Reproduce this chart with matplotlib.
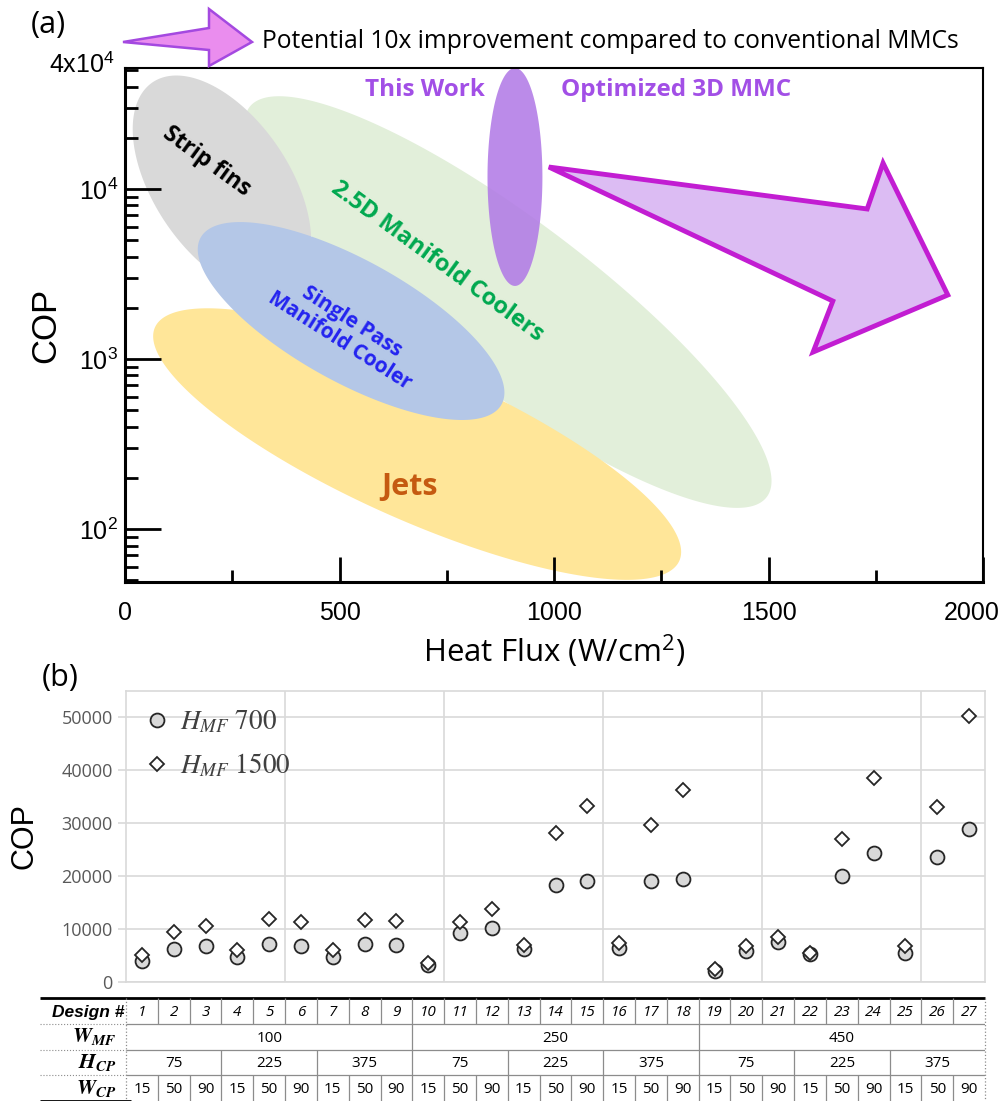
import numpy as np
import matplotlib
matplotlib.use('Agg')
import matplotlib.pyplot as plt
import matplotlib.transforms as mtransforms
from matplotlib.patches import Polygon
from matplotlib.ticker import NullFormatter, FixedLocator

plt.rcParams['mathtext.fontset'] = 'stix'

TICKF = 'Liberation Sans'
SANS = 'Open Sans'

# ---------------- panel (a) data ----------------
heat_flux_ticks = [0, 500, 1000, 1500, 2000]
heat_flux_minor = [250, 750, 1250, 1750]
cop_ticks = [1e2, 1e3, 1e4]

# cooler regions: centre (heat flux, COP), semi axes in W/cm2-equivalent units, tilt
region_names = ['2.5D', 'strip', 'jets', 'single', 'this']
region_hf = [893, 226, 681, 527, 909]
region_cop = [2163, 10550, 316, 1673, 11770]
region_a = [755, 289, 669, 401, 64]
region_b = [193, 158, 177, 142, 254]
region_tilt = [-37, -56, -24, -29, 0]
region_colors = ['#E2EFDA', '#D9D9D9', '#FFE699', '#B4C7E7', '#B27BE6']
region_alpha = [1.0, 1.0, 1.0, 1.0, 0.88]

# trend arrow vertices (heat flux, COP)
arrow_hf = [988, 1730, 1767, 1918, 1604, 1650]
arrow_cop = [13470, 7630, 14220, 2380, 1099, 2193]

# ---------------- panel (b) data ----------------
designs = np.arange(1, 28)
cop_hmf700 = [4000, 6200, 6850, 4700, 7250, 6850, 4700, 7250, 7050,
              3200, 9300, 10300, 6250, 18300, 19050, 6500, 19050, 19550,
              2150, 5900, 7500, 5200, 20000, 24450, 5400, 23650, 28850]
cop_hmf1500 = [5100, 9400, 10500, 6100, 11850, 11400, 6000, 11700, 11550,
               3650, 11400, 13850, 7050, 28250, 33250, 7300, 29700, 36250,
               2400, 6800, 8550, 5550, 27050, 38500, 6850, 33100, 50200]
w_mf = [100] * 9 + [250] * 9 + [450] * 9
h_cp = ([75] * 3 + [225] * 3 + [375] * 3) * 3
w_cp = [15, 50, 90] * 9

W, H = 1005, 1101
fig = plt.figure(figsize=(W / 100, H / 100), dpi=100)
fig.patch.set_facecolor('white')


def fx(px):
    return px / W


def fy(py):
    return 1 - py / H


# ======================= (a) =======================
ax = fig.add_axes([fx(125), fy(582), fx(858), 514 / H])
ax.set_yscale('log')
ax.set_xlim(0, 2000)
ax.set_ylim(48.8, 51500)

# one decade drawn in the same length as this many W/cm2
K = (514 / np.log10(51500 / 48.8)) / (858 / 2000)


def region_poly(hf, cop, a, b, tilt):
    t = np.linspace(0, 2 * np.pi, 300)
    u, v = a * np.cos(t), b * np.sin(t)
    c, s = np.cos(np.radians(tilt)), np.sin(np.radians(tilt))
    x = hf + u * c - v * s
    ly = np.log10(cop) + (u * s + v * c) / K
    return np.column_stack([x, 10 ** ly])


for i in range(len(region_names)):
    ax.add_patch(Polygon(region_poly(region_hf[i], region_cop[i], region_a[i],
                                     region_b[i], region_tilt[i]),
                         closed=True, facecolor=region_colors[i],
                         edgecolor='none', alpha=region_alpha[i], zorder=1))

ax.add_patch(Polygon(np.column_stack([arrow_hf, arrow_cop]), closed=True,
                     facecolor='#DCBCF3', edgecolor='#C21DD2', lw=3.5,
                     joinstyle='miter', zorder=2))

ax.text(190, 14600, 'Strip fins', rotation=-36, rotation_mode='anchor',
        ha='center', va='center', fontsize=16.5, fontweight='bold',
        family=SANS, color='black', zorder=3)
ax.text(727, 3725, '2.5D Manifold Coolers', rotation=-36, rotation_mode='anchor',
        ha='center', va='center', fontsize=17, fontweight='bold',
        family=SANS, color='#00A84F', zorder=3)
ax.text(515, 1462, 'Single Pass\nManifold Cooler', rotation=-32.5,
        rotation_mode='anchor', ha='center', va='center', fontsize=15,
        fontweight='bold', family=SANS, color='#2323F0', linespacing=1.1,
        zorder=3)
ax.text(664, 177, 'Jets', ha='center', va='center', fontsize=22,
        fontweight='bold', family=SANS, color='#C55A11', zorder=3)
ax.text(699, 38200, 'This Work', ha='center', va='center', fontsize=17.5,
        fontweight='bold', family=SANS, color='#A24FE6', zorder=3)
ax.text(1285, 38200, 'Optimized 3D MMC', ha='center', va='center', fontsize=17.5,
        fontweight='bold', family=SANS, color='#A24FE6', zorder=3)

ax.set_xticks(heat_flux_ticks)
ax.xaxis.set_minor_locator(FixedLocator(heat_flux_minor))
ax.set_yticks(cop_ticks)
ax.yaxis.set_minor_formatter(NullFormatter())
ax.tick_params(axis='x', which='major', direction='in', length=18, width=2,
               pad=14, labelsize=18)
ax.tick_params(axis='x', which='minor', direction='in', length=9, width=2)
ax.tick_params(axis='y', which='major', direction='in', length=26, width=2,
               pad=5, labelsize=18)
ax.tick_params(axis='y', which='minor', direction='in', length=9, width=2)
for lab in ax.get_xticklabels() + ax.get_yticklabels():
    lab.set_family(TICKF)
# the last label sits a little left of its tick, inside the frame
last = ax.get_xticklabels()[-1]
last.set_transform(last.get_transform() +
                   mtransforms.ScaledTranslation(-11 / 100, 0, fig.dpi_scale_trans))
for side in ['left', 'bottom']:
    ax.spines[side].set_linewidth(2.2)
for side in ['top', 'right']:
    ax.spines[side].set_linewidth(1.5)

ax.text(-0.012, 1.005, '4x10$^{\\mathdefault{4}}$', transform=ax.transAxes,
        ha='right', va='center', fontsize=18, family=TICKF)
ax.set_ylabel('COP', fontsize=25, labelpad=12, family='Liberation Sans')
ax.set_xlabel('Heat Flux (W/cm$^{\\mathdefault{2}}$)', fontsize=22.5,
              labelpad=5, family=SANS)

# small arrow + caption above the plot
top_arrow = [(123, 42), (209, 28), (209, 9), (252, 42), (209, 66), (209, 50)]
fig.patches.append(Polygon([(fx(x), fy(y)) for x, y in top_arrow], closed=True,
                           transform=fig.transFigure, facecolor='#EA8DEE',
                           edgecolor='#A449E0', lw=1.8, joinstyle='miter'))
fig.text(fx(262), fy(42), 'Potential 10x improvement compared to conventional MMCs',
         ha='left', va='center', fontsize=17.7, family=SANS)
fig.text(fx(48), fy(25), '(a)', ha='center', va='center', fontsize=22,
         family=SANS)

# ======================= (b) =======================
bx = fig.add_axes([fx(126), fy(982), fx(859), 291 / H])
bx.set_xlim(0.5, 27.5)
bx.set_ylim(0, 55000)
bx.plot(designs, cop_hmf700, 'o', ms=10, mfc='#D9D9D9', mec='#262626',
        mew=1.3, label=r'$H_{MF}\ 700$', zorder=3)
bx.plot(designs, cop_hmf1500, 'D', ms=7, mfc='white', mec='#262626',
        mew=1.3, label=r'$H_{MF}\ 1500$', zorder=4)
bx.set_yticks(np.arange(0, 50001, 10000))
bx.set_xticks(np.arange(5.5, 27, 5))
bx.grid(True, color='#D9D9D9', lw=1.2)
bx.set_axisbelow(True)
bx.tick_params(axis='x', length=0, labelbottom=False)
bx.tick_params(axis='y', length=6, color='#D9D9D9', width=1.2,
               labelcolor='#595959', labelsize=13)
for lab in bx.get_yticklabels():
    lab.set_family(SANS)
for sp in bx.spines.values():
    sp.set_color('#D9D9D9')
    sp.set_linewidth(1.2)
bx.set_ylabel('COP', fontsize=22, labelpad=16, family='Liberation Sans')
leg = bx.legend(loc='upper left', frameon=False, fontsize=19.5, handlelength=1.0,
                handletextpad=0.35, labelspacing=0.6, borderaxespad=0.35,
                borderpad=0.3)
for t in leg.get_texts():
    t.set_color('#404040')
fig.text(fx(60), fy(678), '(b)', ha='center', va='center', fontsize=22,
         family=SANS)

# ======================= table =======================
tx = fig.add_axes([fx(40), 0.0, fx(945), 1 - 998 / H - 0.0002])
x_left = 0.5 - 86 / 31.81
tx.set_xlim(x_left, 27.5)
tx.set_ylim(4, 0)
tx.axis('off')

grid_c = '#8C8C8C'
tx.hlines(0, x_left, 27.5, color='black', lw=2, clip_on=False)
tx.hlines(4, x_left, 0.65, color='black', lw=2, clip_on=False)
tx.hlines([1, 2, 3], x_left, 0.5, color=grid_c, lw=0.8, linestyles=':')
tx.vlines([0.5, 27.5], 0, 4, color=grid_c, lw=0.9, linestyles=':', clip_on=False)
tx.hlines([1, 2, 3], 0.5, 27.5, color=grid_c, lw=0.9)

rows = [list(designs), w_mf, list(zip(w_mf, h_cp)), w_cp]
for r, vals in enumerate(rows):
    # merge consecutive equal cells
    start = 0
    for i in range(1, len(vals) + 1):
        if i == len(vals) or vals[i] != vals[start] or r in (0, 3):
            if i < len(vals):
                tx.vlines(designs[i] - 0.5, r, r + 1, color=grid_c, lw=0.9)
            xc = (designs[start] + designs[i - 1]) / 2
            if r == 0:
                txt, style = str(designs[start]), 'italic'
            elif r == 1:
                txt, style = str(w_mf[start]), 'normal'
            elif r == 2:
                txt, style = str(h_cp[start]), 'normal'
            else:
                txt, style = str(w_cp[start]), 'normal'
            tx.text(xc, r + 0.55, txt, ha='center', va='center', fontsize=11,
                    style=style, family=SANS)
            start = i

tx.text(0.45, 0.55, 'Design #', ha='right', va='center', fontsize=12.5,
        fontweight='bold', style='italic', family='Liberation Sans')
for r, lab in zip([1, 2, 3], [r'$\mathbfit{W}_{\mathbfit{MF}}$',
                              r'$\mathbfit{H}_{\mathbfit{CP}}$',
                              r'$\mathbfit{W}_{\mathbfit{CP}}$']):
    tx.text(0.2, r + 0.5, lab, ha='right', va='center', fontsize=15.5)

fig.savefig('out.png', dpi=100, facecolor='white')
